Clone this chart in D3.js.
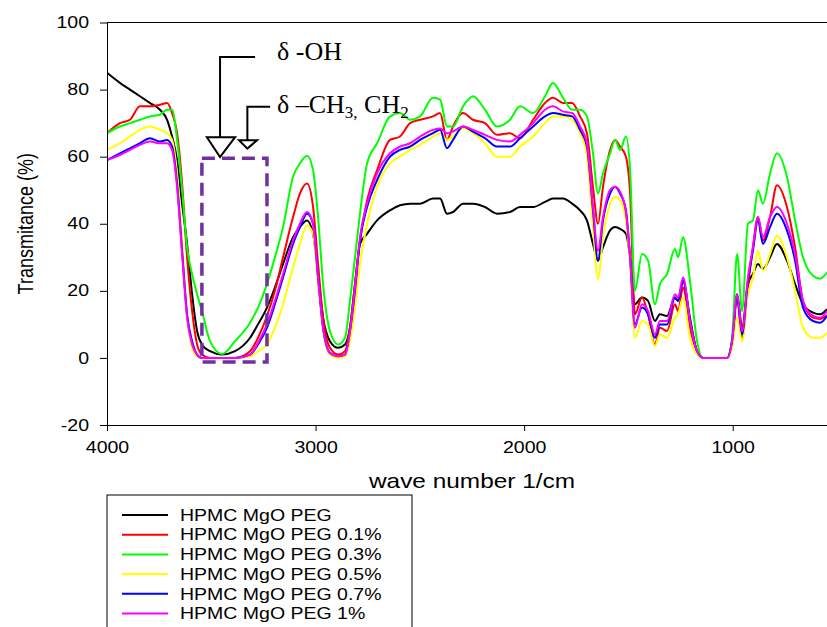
<!DOCTYPE html>
<html>
<head>
<meta charset="utf-8">
<script src="https://cdn.jsdelivr.net/npm/d3@7"></script>
<style>
  body { margin: 0; background: #fff; }
  svg { display: block; }
</style>
</head>
<body>
<script>
var width = 827, height = 627;

var waveNumbers = [4000,3938,3890,3842,3794,3746,3712,3688,3664,3640,
  3616,3592,3568,3545,3506,3449,3386,3314,3276,3233,
  3195,3156,3108,3075,3041,3012,2988,2964,2931,2892,
  2859,2835,2811,2787,2753,2705,2643,2595,2547,2499,
  2437,2403,2370,2341,2293,2245,2188,2130,2068,2020,
  1957,1900,1862,1814,1770,1732,1699,1670,1646,1622,
  1588,1564,1540,1512,1492,1469,1435,1406,1373,1349,
  1315,1277,1262,1238,1205,1171,1142,1085,1027,1003,
  979,955,927,903,879,855,821,788,740,701,
  663,615,581,548];

var seriesNames = ["HPMC MgO PEG","HPMC MgO PEG 0.1%","HPMC MgO PEG 0.3%","HPMC MgO PEG 0.5%","HPMC MgO PEG 0.7%","HPMC MgO PEG 1%"];
var seriesColors = ["#000000","#ff0000","#00ff00","#ffff00","#0000ff","#ff00ff"];

var pegPlain = [85,82,80,78,76,74,71,66,59,46,
  34,19,8,4,2,1,2,6,10,15,
  21,28,36,39,41,37,25,12,5,3,
  4,9,22,34,37,41,44,45.5,46,46,
  47.5,47.5,43,43.5,46,46,45,43,43.5,45,
  45,46.5,47.5,47.5,46,44,41,34,29,33,
  38,39,38.5,37,30,16,18,17,11,13,
  12.5,18,17,23,12,2,0,0,0,5,
  19,9,22,25,28,26.5,30,34,29,22,
  16,13.5,13,14.5];
var peg01 = [67,70,71,75,75,75.5,76,73,67,52,
  30,14,4,1,0,0,0,2,6,12.5,
  20,30,42,49,52,45,28,12,3,1,
  2,9,22,35,47,56,65,66,70,71,
  72,73,65,69,73,71,70,66.5,67,65.5,
  71,76,77.6,76,76,72,67,51,40,51,
  62,65,63,60,49,13,18,13,4,9,
  8,16,14,21,9,2,0,0,0,4,
  18,6,21,33,42,35,42,51.5,45,33,
  17,12,11.6,12.7];
var peg03 = [67,69,70,71,72,72.5,74,74,65,50,
  33,25,19,14,5,1.2,5,10.5,15,22,
  30,39,54,58,60.3,56,42,22,8,4,
  6,17,30,43,58,64,72,73,71,72,
  77.6,77,69,69,75,78,74,69,71,75,
  73,78,82,77.6,74,74,72,61,49,55,
  61,65,62,66,56,20,31,29,16,22,
  25,32.5,30,36,23,5,0,0,0,6,
  31,14,40,41,50,46,55,61,54,41,
  30,24.5,23.6,25.5];
var peg05 = [62,64,66,68,69,68,67,65,55,35,
  12,3,0.5,0,0,0,0,0.5,2,4,
  9,16,27,34,39.5,37,22,8,1,0,
  0.5,5,15,28,40,51,58,60,62,63.5,
  66,67,65,66,68.5,67,64,60,60,63,
  66,70,72,72,71,67,60,39,23.5,36,
  46,48,47,41,28,6,11,10,3.5,7,
  6,12,13,18,6,1,0,0,0,3,
  12,5,19,24,32,26,31,36.4,30,20,
  9,6,6,7.5];
var peg07 = [59,61,62.5,64,65.5,64.5,65,63,52,32,
  13,5,1,0,0,0,0,1,4,9,
  16,24,34,39,43,40,24,9,1.5,0.5,
  1,8,20,35,45,53,60,62,63,65,
  67,68,62.5,65,69,67.5,65.5,63,63,65.5,
  69,72,73,72.5,72,68,63,44,29,41,
  49,51,49,44,30,10,15,13,6,10,
  10,18,17,23,11,2,0,0,0,5,
  18,7,23,32,41,34,39,43,38,29,
  15,11,10.5,12.5];
var peg1 = [59,60.5,62,63.5,64.5,64,64,62,51,31,
  12,4,1,0,0,0,0,1,4.5,10,
  17,25,35,40,43.5,40,24,9,1.5,0.5,
  1,8,21,36,46,55,61,63,64,66,
  68,68.4,67,67.5,69,68,66.5,65,64.5,66.5,
  70,74,75,73.5,73,69,64,45,32,42,
  50,51,49.5,43.5,30,9,16,14,7,11,
  11,19,18,24,11,2,0,0,0,5,
  19,8,24,33,42,36,42,45,40,31,
  17,12.5,12,14];

var xTicks = [4000,3000,2000,1000];
var yTicks = [-20,0,20,40,60,80,100];

var sans = "'Liberation Sans', Arial, sans-serif";
var serif = "'Liberation Serif', 'Times New Roman', serif";
var sx = 1.22; // the reference text is drawn a bit wide

var x = d3.scaleLinear().domain([4000,500]).range([107,837]);
var y = d3.scaleLinear().domain([-20,100]).range([425,22.5]);

var svg = d3.select("body").append("svg").attr("width",width).attr("height",height);

svg.append("defs").append("clipPath").attr("id","plot")
  .append("rect").attr("x",x(4000)).attr("y",y(100)).attr("width",x(500)-x(4000)).attr("height",y(-20)-y(100));

var allSeries = [pegPlain,peg01,peg03,peg05,peg07,peg1];

var line = d3.line()
  .x(function(d,i){ return x(waveNumbers[i]); })
  .y(function(d){ return y(d); })
  .curve(d3.curveMonotoneX);

svg.append("g").attr("clip-path","url(#plot)")
  .selectAll("path")
  .data(allSeries)
  .enter().append("path")
    .attr("fill","none")
    .attr("stroke",function(d,i){ return seriesColors[i]; })
    .attr("stroke-width",2)
    .attr("stroke-linejoin","round")
    .attr("d",line);

// axes (plain hyphen for negatives, like the reference)
var plain = function(d){ return String(d); };

var yAxis = svg.append("g")
  .attr("transform","translate("+x(4000)+",0)")
  .call(d3.axisLeft(y).tickValues(yTicks).tickFormat(plain).tickSize(7).tickSizeOuter(0));
yAxis.attr("font-size",16).attr("font-family",sans);
yAxis.selectAll("text").attr("x",-18/sx).attr("transform","scale("+sx+",1)");

var xAxis = svg.append("g")
  .attr("transform","translate(0,"+y(-20)+")")
  .call(d3.axisBottom(x).tickValues(xTicks).tickFormat(plain).tickSize(6).tickSizeOuter(0));
xAxis.attr("font-size",16).attr("font-family",sans);
xAxis.selectAll("text").attr("y",17).attr("x",0).attr("transform","scale("+sx+",1)");

svg.append("line")
  .attr("x1",x(4000)).attr("x2",x(500))
  .attr("y1",y(100)).attr("y2",y(100))
  .attr("stroke","#000").attr("stroke-width",1);

svg.append("text")
  .attr("transform","translate(33,"+((y(100)+y(-20))/2)+") rotate(-90) scale(1,"+sx+")")
  .attr("text-anchor","middle")
  .attr("font-family",sans).attr("font-size",18)
  .text("Transmitance (%)");

svg.append("text")
  .attr("transform","translate(472,488) scale("+sx+",1)")
  .attr("text-anchor","middle")
  .attr("font-family",sans).attr("font-size",20)
  .text("wave number 1/cm");

// dashed box round the O-H band
svg.append("rect")
  .attr("x",x(3545)).attr("y",y(59.5))
  .attr("width",x(3233)-x(3545)).attr("height",y(-1.2)-y(59.5))
  .attr("fill","none").attr("stroke","#7030a0")
  .attr("stroke-width",3.5).attr("stroke-dasharray","13,7");

// arrows
var arrows = [
  {path:[[3290,89.7],[3458,89.7],[3458,65.8]], tri:[[3521,65.8],[3386,65.8],[3458,59.9]]},
  {path:[[3218,74.9],[3327,74.9],[3327,64.9]], tri:[[3367,64.9],[3281,64.9],[3327,62.4]]}
];
var pl = d3.line().x(function(d){ return x(d[0]); }).y(function(d){ return y(d[1]); });
arrows.forEach(function(a){
  svg.append("path").attr("d",pl(a.path)).attr("fill","none").attr("stroke","#000").attr("stroke-width",2);
  svg.append("path").attr("d",pl(a.tri)+"Z").attr("fill","#fff").attr("stroke","#000").attr("stroke-width",2);
});

svg.append("text")
  .attr("x",x(3185)).attr("y",y(88.8))
  .attr("font-family",serif).attr("font-size",26)
  .text("\u03b4 -OH");

var ch = svg.append("text")
  .attr("x",x(3185)).attr("y",y(73))
  .attr("font-family",serif).attr("font-size",26);
ch.append("tspan").text("\u03b4 \u2013CH");
ch.append("tspan").attr("font-size",17).attr("dy",5).text("3,");
ch.append("tspan").attr("dy",-5).text(" CH");
ch.append("tspan").attr("font-size",17).attr("dy",5).text("2");

// legend
var legend = svg.append("g");
legend.append("rect")
  .attr("x",107).attr("y",495).attr("width",305).attr("height",200)
  .attr("fill","#fff").attr("stroke","#000").attr("stroke-width",1);
var rows = legend.selectAll("g.row")
  .data(seriesNames)
  .enter().append("g")
    .attr("class","row")
    .attr("transform",function(d,i){ return "translate(0,"+(515+i*19.7)+")"; });
rows.append("line")
  .attr("x1",122).attr("x2",168)
  .attr("stroke",function(d,i){ return seriesColors[i]; })
  .attr("stroke-width",2);
rows.append("text")
  .attr("transform","translate(180,0) scale("+sx+",1)")
  .attr("dy","0.36em")
  .attr("font-family",sans).attr("font-size",16)
  .text(function(d){ return d; });
</script>
</body>
</html>
